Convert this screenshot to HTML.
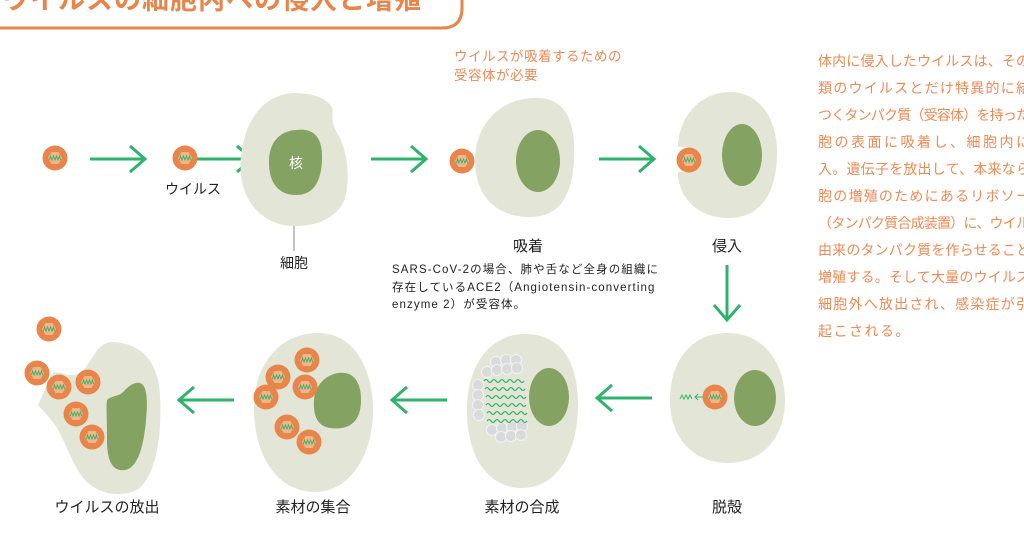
<!DOCTYPE html>
<html><head><meta charset="utf-8"><style>
html,body{margin:0;padding:0;background:#fff;}
svg{display:block;}
text{font-family:"Liberation Sans","Noto Sans CJK JP",sans-serif;}
</style></head><body>
<svg width="1024" height="534" viewBox="0 0 1024 534" xmlns="http://www.w3.org/2000/svg">
<defs>
<g id="v">
<circle r="12.5" fill="#e8854a"/>
<polygon points="-7,0 -3.5,-6 3.5,-6 7,0 3.5,6 -3.5,6" fill="#f3b68c"/>
<polyline points="-5.5,2 -4.5,-2 -3,2 -1.5,-2 0,2 1.5,-2 3,2 4.5,-2 5.5,2" fill="none" stroke="#3bb56e" stroke-width="1"/>
</g>
<g id="w"><path d="M0,0 q2,-3 4,0 t4,0 t4,0 t4,0 t4,0 t4,0 t4,0 t4,0 t4,0 t4,0" fill="none" stroke="#3bb56e" stroke-width="1.3"/></g>
<g id="ar"><line x1="0" y1="0" x2="55" y2="0" stroke="#2fb36c" stroke-width="3"/><polyline points="40,-13 55,0 40,13" fill="none" stroke="#2fb36c" stroke-width="3"/></g>
</defs>

<!-- title -->
<path d="M-5,28 H442 Q462,28 462,8 V-5" fill="none" stroke="#e8854a" stroke-width="3"/>
<text x="2" y="9" font-size="27" font-weight="bold" fill="#e8854a" letter-spacing="1">ウイルスの細胞内への侵入と増殖</text>

<!-- row 1 -->
<use href="#v" x="55" y="158"/>
<use href="#ar" x="90" y="159"/>
<use href="#v" x="185" y="158"/>
<text x="193" y="194" font-size="14" text-anchor="middle" fill="#222">ウイルス</text>
<use href="#ar" x="197" y="159"/>
<path d="M294,93 C315,93 330,100 333,110 C331,122 334,128 340,138 C350,160 350,190 342,205 C330,222 312,226 294,226 C270,226 245,210 241,175 C238,145 250,95 294,93 Z" fill="#e3e6d6"/>
<path d="M296,130 C312,128 323,135 322,160 C321,183 313,195 296,195 C280,195 270,185 269,165 C268,142 280,131 296,130 Z" fill="#84a362"/>
<text x="296" y="168" font-size="14" fill="#fff" text-anchor="middle">核</text>
<line x1="294" y1="226" x2="294" y2="251" stroke="#888" stroke-width="1"/>
<text x="294" y="268" font-size="14" text-anchor="middle" fill="#222">細胞</text>

<use href="#ar" x="371" y="159"/>
<text x="454" y="61" font-size="13.5" fill="#ec8a55" letter-spacing="0.5">ウイルスが吸着するための</text>
<text x="454" y="80" font-size="13.5" fill="#ec8a55" letter-spacing="0.5">受容体が必要</text>
<path d="M540,98 C565,100 576,120 574,160 C572,195 560,217 530,217 C500,217 475,200 475,160 C475,125 500,96 540,98 Z" fill="#e3e6d6"/>
<ellipse cx="538" cy="161" rx="22" ry="31" fill="#84a362"/>
<use href="#v" x="462" y="161"/>
<text x="528" y="251" font-size="15" text-anchor="middle" fill="#222">吸着</text>
<text x="392" y="273" font-size="11.5" fill="#222" letter-spacing="1.1">SARS-CoV-2の場合、肺や舌など全身の組織に</text>
<text x="392" y="291" font-size="11.5" fill="#222" letter-spacing="1.1">存在しているACE2（Angiotensin-converting</text>
<text x="392" y="308" font-size="11.5" fill="#222" letter-spacing="1.1">enzyme 2）が受容体。</text>

<use href="#ar" x="599" y="159"/>
<path d="M730,92 C760,92 778,120 777,155 C776,195 760,218 728,218 C700,218 680,200 678,175 L678,172 C690,172 700,168 700,158 C700,150 692,146 678,147 C678,120 698,92 730,92 Z" fill="#e3e6d6"/>
<ellipse cx="742" cy="155" rx="20" ry="31" fill="#84a362"/>
<use href="#v" x="689" y="160"/>
<text x="727" y="251" font-size="15" text-anchor="middle" fill="#222">侵入</text>
<g transform="translate(727,265) rotate(90)"><use href="#ar"/></g>

<!-- right text -->
<g font-size="14" fill="#ec8a55">
<text x="818" y="66" textLength="212" lengthAdjust="spacing">体内に侵入したウイルスは、その</text>
<text x="818" y="93" textLength="212" lengthAdjust="spacing">類のウイルスとだけ特異的に結</text>
<text x="818" y="120" textLength="212" lengthAdjust="spacing">つくタンパク質（受容体）を持った</text>
<text x="818" y="147" textLength="212" lengthAdjust="spacing">胞の表面に吸着し、細胞内に</text>
<text x="818" y="174" textLength="212" lengthAdjust="spacing">入。遺伝子を放出して、本来なら</text>
<text x="818" y="201" textLength="212" lengthAdjust="spacing">胞の増殖のためにあるリボソー</text>
<text x="818" y="228" textLength="212" lengthAdjust="spacing">（タンパク質合成装置）に、ウイル</text>
<text x="818" y="255" textLength="212" lengthAdjust="spacing">由来のタンパク質を作らせること</text>
<text x="818" y="282" textLength="212" lengthAdjust="spacing">増殖する。そして大量のウイルス</text>
<text x="818" y="309" textLength="212" lengthAdjust="spacing">細胞外へ放出され、感染症が引</text>
<text x="818" y="336" letter-spacing="1.5">起こされる。</text>
</g>

<!-- row 2 -->
<path d="M728,333 C765,333 785,365 785,400 C785,440 760,463 728,463 C695,463 670,440 670,400 C670,362 690,333 728,333 Z" fill="#e3e6d6"/>
<ellipse cx="755" cy="398" rx="21" ry="28" fill="#84a362"/>
<use href="#v" x="715" y="397"/>
<polyline points="680,399 682,395 684,399 686,395 688,399 690,395 692,399" fill="none" stroke="#3bb56e" stroke-width="1"/>
<line x1="695" y1="397" x2="703" y2="397" stroke="#3bb56e" stroke-width="1"/>
<polyline points="698,394 695,397 698,400" fill="none" stroke="#3bb56e" stroke-width="1"/>
<text x="727" y="512" font-size="15" text-anchor="middle" fill="#222">脱殻</text>

<g transform="translate(652,398) rotate(180)"><use href="#ar"/></g>

<path d="M525,334 C560,334 578,360 578,405 C578,455 555,488 522,488 C490,488 467,460 467,410 C467,365 490,334 525,334 Z" fill="#e3e6d6"/>
<ellipse cx="549" cy="397" rx="20" ry="29" fill="#84a362"/>
<g fill="#d9dadc" stroke="#f2f2f2" stroke-width="1">
<circle cx="496" cy="362" r="5.5"/><circle cx="506" cy="360" r="5.5"/><circle cx="516" cy="360" r="5.5"/>
<circle cx="487" cy="372" r="5.5"/><circle cx="497" cy="370" r="5.5"/><circle cx="507" cy="369" r="5.5"/><circle cx="517" cy="368" r="5.5"/>
<circle cx="478" cy="385" r="5.5"/><circle cx="478" cy="395" r="5.5"/><circle cx="478" cy="405" r="5.5"/><circle cx="479" cy="415" r="5.5"/>
<circle cx="492" cy="430" r="5.5"/><circle cx="502" cy="428" r="5.5"/><circle cx="512" cy="427" r="5.5"/><circle cx="522" cy="426" r="5.5"/>
<circle cx="501" cy="437" r="5.5"/><circle cx="511" cy="436" r="5.5"/><circle cx="521" cy="435" r="5.5"/>
</g>
<use href="#w" x="484" y="381"/><use href="#w" x="485" y="389"/><use href="#w" x="486" y="397"/>
<use href="#w" x="486" y="405"/><use href="#w" x="487" y="413"/><use href="#w" x="487" y="421"/>
<text x="522" y="512" font-size="15" text-anchor="middle" fill="#222">素材の合成</text>

<g transform="translate(447,400) rotate(180)"><use href="#ar"/></g>

<path d="M318,333 C355,333 373,370 373,410 C373,455 350,492 315,492 C280,492 255,460 254,410 C253,365 280,333 318,333 Z" fill="#e3e6d6"/>
<path d="M345,373 C360,375 363,395 360,410 C357,425 345,430 330,428 C317,426 313,415 314,400 C315,383 330,371 345,373 Z" fill="#84a362"/>
<use href="#v" x="307" y="360"/><use href="#v" x="278" y="377"/><use href="#v" x="305" y="387"/>
<use href="#v" x="266" y="397"/><use href="#v" x="287" y="427"/><use href="#v" x="309" y="442"/>
<text x="313" y="512" font-size="15" text-anchor="middle" fill="#222">素材の集合</text>

<g transform="translate(234,400) rotate(180)"><use href="#ar"/></g>

<path d="M110,342 C140,342 158,360 160,395 C162,430 158,470 140,488 C125,498 100,496 85,480 C72,465 65,440 55,425 C48,415 42,410 38,405 C45,390 50,378 52,374 C58,370 65,376 75,375 C90,372 92,346 110,342 Z" fill="#e3e6d6"/>
<path d="M140,383 C147,385 148,400 146,420 C144,445 138,468 125,470 C112,472 107,460 107,440 C107,420 106,405 107,400 C112,395 120,397 125,390 C130,385 135,382 140,383 Z" fill="#84a362"/>
<use href="#v" x="49" y="329"/><use href="#v" x="37" y="373"/>
<use href="#v" x="59" y="387"/><use href="#v" x="88" y="382"/><use href="#v" x="76" y="414"/><use href="#v" x="92" y="437"/>
<text x="107" y="512" font-size="15" text-anchor="middle" fill="#222">ウイルスの放出</text>
</svg>
</body></html>
